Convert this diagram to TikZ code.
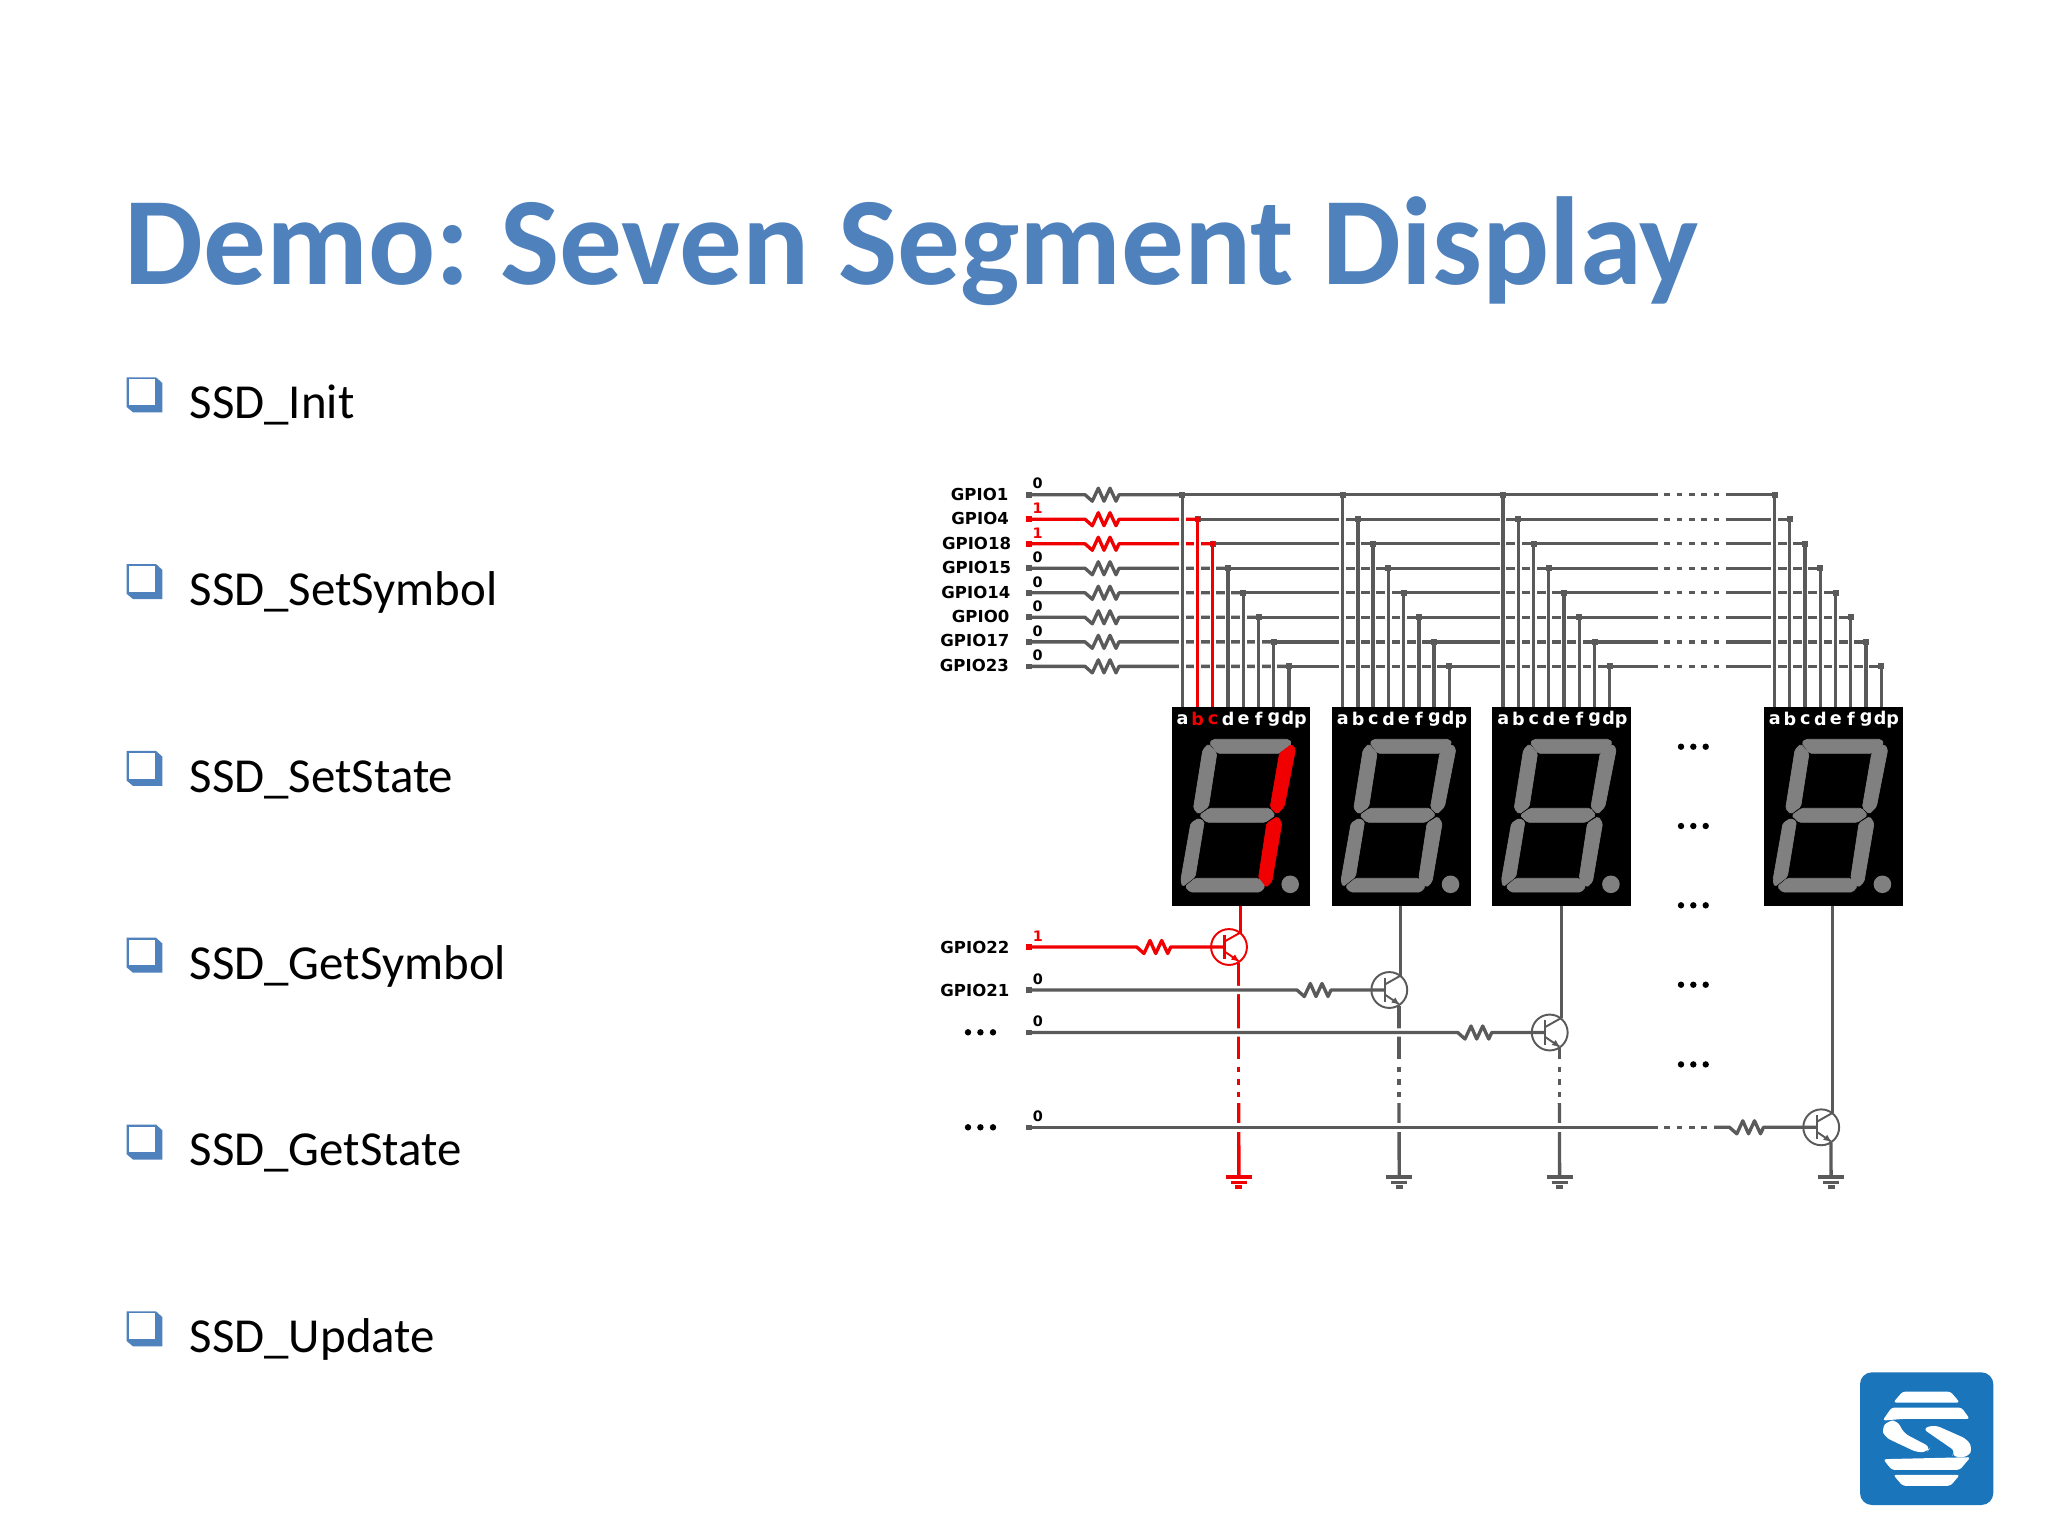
\documentclass[tikz,border=0pt]{standalone}
\usepackage{fontspec}
\usepackage{xcolor}
\usetikzlibrary{calc}
\setmainfont{Carlito}
\newfontfamily\schemfont{DejaVu Sans}
\definecolor{titleblue}{HTML}{4F81BD}
\definecolor{wiregray}{HTML}{5A5A5A}
\definecolor{wirered}{HTML}{F00000}
\definecolor{seggray}{HTML}{808080}
\definecolor{logoblue}{HTML}{1B75BB}
\tikzset{
  wire/.style={line width=0.95pt,line join=round},
  thinwire/.style={line width=0.55pt},
  breakdash/.style={dash pattern=on 1.7pt off 1.85pt},
  emitdash/.style={dash pattern=on 1.6pt off 1.95pt},
  pinsq/.style={rectangle,inner sep=0pt,minimum width=1.8pt,minimum height=1.6pt},
  tapdot/.style={rectangle,inner sep=0pt,minimum size=1.7pt},
  qring/.style={circle,inner sep=0pt,minimum size=10.2pt,line width=0.55pt},
  gpiotext/.style={inner sep=0pt,font=\schemfont\bfseries\fontsize{4.7}{5}\selectfont},
  valtext/.style={inner sep=0pt,font=\schemfont\bfseries\fontsize{4.1}{5}\selectfont},
  pintext/.style={inner sep=0pt,text=white,font=\schemfont\bfseries\fontsize{5}{6}\selectfont},
  itemtext/.style={inner sep=0pt,font=\fontsize{13.9}{16}\selectfont},
  segment/.style={rounded corners=0.5pt,draw,line width=0.2pt}
}
% zigzag of one resistor, 34 wide
\newcommand{\zigzag}{-- ++(7.3,6.5) -- ++(6,-13) -- ++(5.7,13) -- ++(6,-13) -- ++(6,13) -- ++(3,-6.5)}
% one display: name, left edge, colour of segments b and c, colour of their labels
\newcommand{\digitbox}[4]{%
  \begin{scope}[shift={(#2,707.3)}]
    \fill [black] (0,0) rectangle (138.9,198.4);
    \fill [seggray,segment] (38,35.3) -- (42,32) -- (117,32) -- (120.3,36) -- (108.7,46) -- (46,46) -- cycle;
    \fill [#3,segment] (120.3,37) -- (124,42) -- (112.7,99.3) -- (105.3,106.7) -- (98.7,100) -- (108,46) -- cycle;
    \fill [#3,segment] (106,109.3) -- (110.3,116) -- (100.3,174.3) -- (94.7,180) -- (87,171) -- (95.3,116) -- cycle;
    \fill [seggray,segment] (13.7,179.3) -- (23.7,171) -- (87,171) -- (93.7,179.3) -- (88.7,184.7) -- (18.7,184.7) -- cycle;
    \fill [seggray,segment] (27,111) -- (32.7,114.3) -- (23.7,169.3) -- (11,179.3) -- (9.3,172.7) -- (19.3,116) -- cycle;
    \fill [seggray,segment] (37,36.7) -- (45.3,46) -- (37,99.3) -- (27,106.7) -- (22,101) -- (31.3,42.7) -- cycle;
    \fill [seggray,segment] (28,108) -- (38,101) -- (98,101) -- (103.7,108) -- (93.7,115) -- (35.3,115) -- cycle;
    \fill [seggray] (118.7,177) circle (8.8);
    \foreach \k/\lab/\col in {0/a/white,1/b/#4,2/c/#4,3/d/white,4/e/white,5/f/white,6/g/white}
      \node [pintext,text=\col] (#1\lab) at ({11+15.25*\k},12) {\lab};
    \node [pintext] (#1dp) at (122.7,12.5) {dp};
  \end{scope}
}
\begin{document}
\begin{tikzpicture}[x=0.01cm,y=-0.01cm]
  \useasboundingbox (0,0) rectangle (2048,1536);
  \fill [white] (0,0) rectangle (2048,1536);

  % Writing title
  \node [anchor=base west,inner sep=0pt,text=titleblue,font=\bfseries\fontsize{35.6}{40}\selectfont] (title) at (124,284.5) {Demo:\hspace{-2.2pt} Seven Segment Display};

  % Writing the list with its bullets
  \foreach \i/\txt in {0/SSD\_Init,1/SSD\_SetSymbol,2/SSD\_SetState,3/SSD\_GetSymbol,4/SSD\_GetState,5/SSD\_Update}{
    \begin{scope}[yshift={-\i*1.867cm}]
      \fill [titleblue] (126.7,377.3) -- (156,377.3) -- (162.3,383) -- (162.3,412.3) -- (133,412.3) -- (126.7,407) -- cycle;
      \fill [white] (128.7,379.3) rectangle (155,405);
      \node [itemtext,anchor=base west] (item\i) at (189,418.6) {\txt};
    \end{scope}
  }

  % Marking the segment lines and their taps
  \foreach \k in {0,...,7}{
    \pgfmathsetmacro{\yl}{494.7+24.52*\k}
    \coordinate (pin\k) at (1029,\yl);
    \coordinate (res\k) at (1085,\yl);
    \coordinate (brka\k) at (1658,\yl);
    \coordinate (brkb\k) at (1664,\yl);
    \coordinate (brkc\k) at (1719,\yl);
    \coordinate (brkd\k) at (1726,\yl);
    \foreach \d/\xd in {1/1171.5,2/1331.8,3/1492.2,4/1763.7}{
      \pgfmathsetmacro{\xt}{\xd+10.8+15.25*\k}
      \coordinate (tap\d\k) at (\xt,\yl);
      \coordinate (top\d\k) at (\xt,707.3);
    }
  }

  % Drawing segment lines
  \foreach \k/\col/\valcol/\lab in {0/wiregray/black/0,1/wirered/wirered/1,2/wirered/wirered/1,3/wiregray/black/0,4/wiregray/black/0,5/wiregray/black/0,6/wiregray/black/0,7/wiregray/black/0}{
    \draw [wire,\col] (pin\k) -- (res\k) \zigzag -- (tap1\k);
    \draw [wire,wiregray] (tap1\k) -- (brka\k);
    \draw [wire,wiregray,breakdash] (brkb\k) -- (brkc\k);
    \draw [wire,wiregray] (brkd\k) -- (tap4\k);
    \node [pinsq,fill=\col] (pinsq\k) at (pin\k) {};
    \node [valtext,text=\valcol] (val\k) at ($(pin\k)+(8.7,-11)$) {\lab};
  }

  % Drawing taps, each with a gap in the lines it crosses
  \foreach \d in {1,2,3,4}
    \foreach \k in {0,...,7}
      \draw [white,line width=1.85pt] ($(tap\d\k)+(0,4)$) -- (top\d\k);
  \foreach \d in {1,2,3,4}
    \foreach \k in {0,...,7}{
      \draw [wire,wiregray] (tap\d\k) -- (top\d\k);
      \node [tapdot,fill=wiregray] (dot\d\k) at (tap\d\k) {};
    }
  \foreach \k in {1,2}{
    \draw [wire,wirered] (tap1\k) -- (top1\k);
    \node [tapdot,circle,fill=wirered] (dot1\k) at (tap1\k) {};
  }

  % Writing line names
  \foreach \k/\name/\xn in {0/GPIO1/1009,1/GPIO4/1009.5,2/GPIO18/1011.7,3/GPIO15/1011.7,4/GPIO14/1011,5/GPIO0/1010,6/GPIO17/1010,7/GPIO23/1009.5}
    \node [gpiotext,anchor=east] (name\k) at (\xn,{494.5+24.4*\k}) {\name};
  \node [gpiotext,anchor=east] (name22) at (1010,947) {GPIO22};
  \node [gpiotext,anchor=east] (name21) at (1010,990) {GPIO21};

  % Drawing displays
  \digitbox{da}{1171.5}{wirered}{wirered}
  \digitbox{db}{1331.8}{seggray}{white}
  \digitbox{dc}{1492.2}{seggray}{white}
  \digitbox{dd}{1763.7}{seggray}{white}

  % Marking transistors and their lines
  \foreach \q/\xd/\yq/\xr in {1/1171.5/947/1136.7,2/1331.8/990/1297,3/1492.2/1032.5/1457.7,4/1763.7/1127.3/1729.5}{
    \coordinate (qc\q) at ({\xd+57.5},\yq);
    \coordinate (qtop\q) at ({\xd+69},905.7);
    \coordinate (qcol\q) at ({\xd+69},\yq-14.5);
    \coordinate (qem\q) at ({\xd+67.2},\yq+15.5);
    \coordinate (gnd\q) at ({\xd+67.4},1177);
    \coordinate (qin\q) at (1029,\yq);
    \coordinate (qres\q) at (\xr,\yq);
    \coordinate (qbase\q) at ({\xd+53},\yq);
  }
  \foreach \q/\col in {1/wirered,2/wiregray,3/wiregray}{
    \draw [wire,\col] (qem\q) -- (qem\q |- 0,1059.3);
    \draw [wire,\col,emitdash] (qem\q |- 0,1066.7) -- (qem\q |- 0,1097);
    \draw [wire,\col] (qem\q |- 0,1103) -- (gnd\q);
  }
  \draw [wire,wiregray] (qem4) -- (gnd4);

  % Drawing base lines, which cut the lines to ground
  \foreach \q/\col in {1/wirered,2/wiregray,3/wiregray}
    \draw [wire,\col,preaction={draw=white,line width=2.4pt}] (qin\q) -- (qres\q) \zigzag -- (qbase\q);
  \draw [wire,wiregray,preaction={draw=white,line width=2.4pt}] (qin4) -- (1658,1127.3);
  \draw [wire,wiregray,breakdash] (1664,1127.3) -- (1708,1127.3);
  \draw [wire,wiregray] (1714,1127.3) -- (qres4) \zigzag -- (qbase4);

  % Drawing transistors and grounds
  \foreach \q/\col/\valcol/\lab in {1/wirered/wirered/1,2/wiregray/black/0,3/wiregray/black/0,4/wiregray/black/0}{
    \draw [wire,\col] (qtop\q) -- (qcol\q);
    \node [qring,draw=\col] (ring\q) at (qc\q) {};
    \draw [wire,\col,line width=0.65pt] ($(qc\q)+(-4.5,-12.5)$) -- ($(qc\q)+(-4.5,12)$);
    \draw [thinwire,\col] ($(qc\q)+(-4.5,-5.5)$) -- (qcol\q);
    \draw [thinwire,\col] ($(qc\q)+(-4.5,4.5)$) -- ($(qc\q)+(9.5,14)$);
    \fill [\col] ($(qc\q)+(9.5,14)$) -- ++(-7.5,-1.5) -- ++(4,-5) -- cycle;
    \node [pinsq,fill=\col] (qsq\q) at (qin\q) {};
    \node [valtext,text=\valcol] (qval\q) at ($(qin\q)+(9,-11)$) {\lab};
    \draw [wire,\col] ($(gnd\q)+(-13,0)$) -- ($(gnd\q)+(13,0)$);
    \draw [wire,\col] ($(gnd\q)+(-8,5.3)$) -- ($(gnd\q)+(8,5.3)$);
    \draw [wire,\col] ($(gnd\q)+(-3.5,10)$) -- ($(gnd\q)+(3.5,10)$);
  }

  % Marking dots
  \foreach \yd in {1032.3,1127.3}
    \foreach \xd in {968,980.4,993}
      \fill (\xd,\yd) circle (3.2);
  \foreach \yd in {746.7,826,905.3,984.7,1064.4}
    \foreach \xd in {1681,1693.3,1705.7}
      \fill (\xd,\yd) circle (3.2);

  % Drawing logo
  \fill [logoblue,rounded corners=3.4pt] (1860,1372.3) rectangle (1993.3,1505);
  \begin{scope}[shift={(1840,1350)},x=0.00333cm,y=-0.00333cm]
    \fill [white,rounded corners=0.8pt] (160,158) -- (188,125) -- (332,125) -- (360,158) -- cycle;
    \fill [white,rounded corners=0.8pt] (128,212) -- (155,173) -- (365,173) -- (390,207) -- (190,207) -- cycle;
    \fill [white,rounded corners=1.6pt] (125,235) -- (145,212) -- (172,212) -- (192,250) -- (272,292) -- (262,306) -- (232,308) -- (135,262) -- cycle;
    \fill [white,rounded corners=1.6pt] (248,236) -- (285,225) -- (382,268) -- (398,295) -- (385,322) -- (335,320) -- (348,305) -- cycle;
    \fill [white,rounded corners=0.8pt] (130,328) -- (392,322) -- (360,360) -- (155,360) -- cycle;
    \fill [white,rounded corners=0.8pt] (160,375) -- (360,375) -- (332,408) -- (188,408) -- cycle;
  \end{scope}
\end{tikzpicture}
\end{document}
